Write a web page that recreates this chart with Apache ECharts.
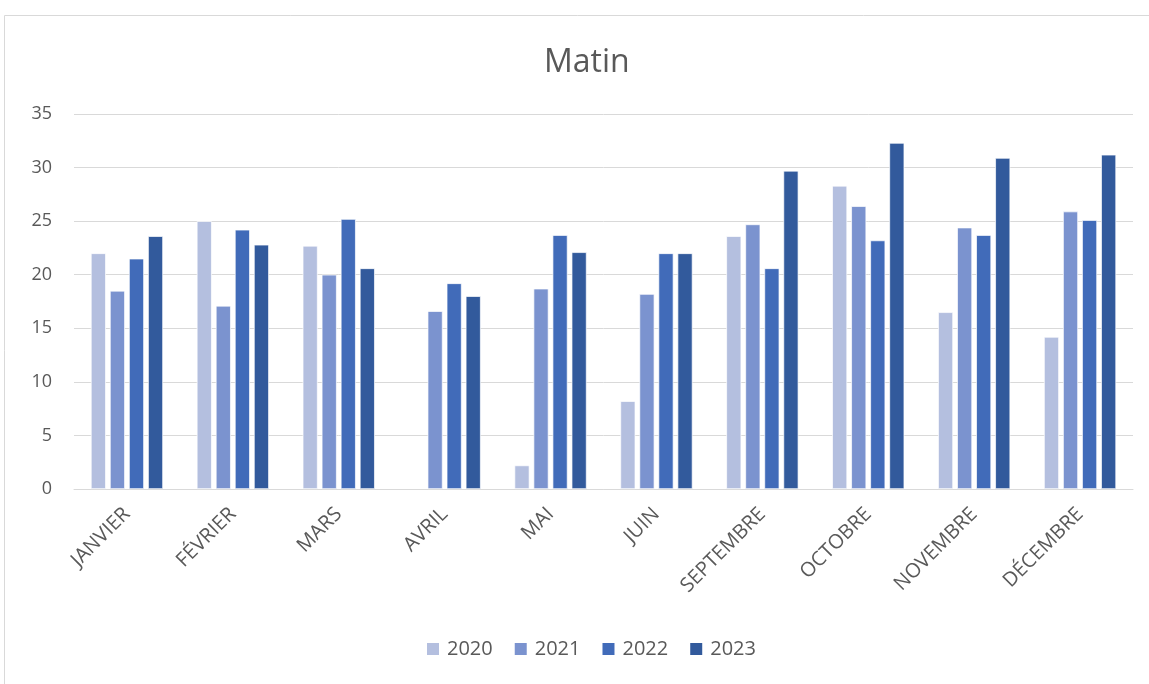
<!DOCTYPE html>
<html>
<head>
<meta charset="utf-8">
<script src="https://cdn.jsdelivr.net/npm/echarts@6/dist/echarts.min.js"></script>
<style>
html,body{margin:0;padding:0;background:#fff;}
#chart{width:1149px;height:684px;}
</style>
</head>
<body>
<div id="chart"></div>
<script>
const categories = ['JANVIER','FÉVRIER','MARS','AVRIL','MAI','JUIN','SEPTEMBRE','OCTOBRE','NOVEMBRE','DÉCEMBRE'];
const years = ['2020','2021','2022','2023'];
const v2020 = [22.0, 25.0, 22.7, null, 2.2, 8.2, 23.6, 28.3, 16.5, 14.2];
const v2021 = [18.5, 17.1, 20.0, 16.6, 18.7, 18.2, 24.7, 26.4, 24.4, 25.9];
const v2022 = [21.5, 24.2, 25.2, 19.2, 23.7, 22.0, 20.6, 23.2, 23.7, 25.1];
const v2023 = [23.6, 22.8, 20.6, 18.0, 22.1, 22.0, 29.7, 32.3, 30.9, 31.2];
const yTicks = [0, 5, 10, 15, 20, 25, 30, 35];

const colors = ['#b4bfdf', '#7b93cf', '#416bb9', '#325a9c'];
const seriesData = [v2020, v2021, v2022, v2023];
const font = 'Open Sans, Liberation Sans, sans-serif';

const chart = echarts.init(document.getElementById('chart'));
chart.setOption({
  animation: false,
  color: colors,
  graphic: [{
    type: 'rect',
    shape: {x: 4.5, y: 15.5, width: 1160, height: 700},
    style: {fill: 'none', stroke: '#d9d9d9', lineWidth: 1},
    silent: true
  }],
  title: {
    text: 'Matin',
    left: 539,
    top: 42,
    textStyle: {fontFamily: font, fontSize: 32, fontWeight: 'normal', color: '#595959'}
  },
  legend: {
    data: years,
    bottom: 20,
    left: 420,
    itemWidth: 14,
    itemHeight: 14,
    itemGap: 20,
    icon: 'rect',
    textStyle: {fontFamily: font, fontSize: 20, color: '#595959', padding: [0, 0, 0, 2]}
  },
  grid: {left: 74, right: 16, top: 114, bottom: 195, containLabel: false},
  xAxis: {
    type: 'category',
    data: categories,
    axisLine: {show: true, lineStyle: {color: '#d9d9d9', width: 1}},
    axisTick: {show: false},
    axisLabel: {
      rotate: 45,
      interval: 0,
      margin: 22,
      fontFamily: font,
      fontSize: 20,
      color: '#595959'
    }
  },
  yAxis: {
    type: 'value',
    min: yTicks[0],
    max: yTicks[yTicks.length - 1],
    interval: 5,
    axisLine: {show: false},
    axisTick: {show: false},
    splitLine: {lineStyle: {color: '#d9d9d9', width: 1}},
    axisLabel: {
      margin: 22,
      fontFamily: font,
      fontSize: 18,
      color: '#595959'
    }
  },
  series: years.map((y, i) => ({
    name: y,
    type: 'bar',
    data: seriesData[i],
    barWidth: 15,
    barGap: '27%',
    itemStyle: {color: colors[i], borderColor: '#ffffff', borderWidth: 0.7}
  }))
});
</script>
</body>
</html>
